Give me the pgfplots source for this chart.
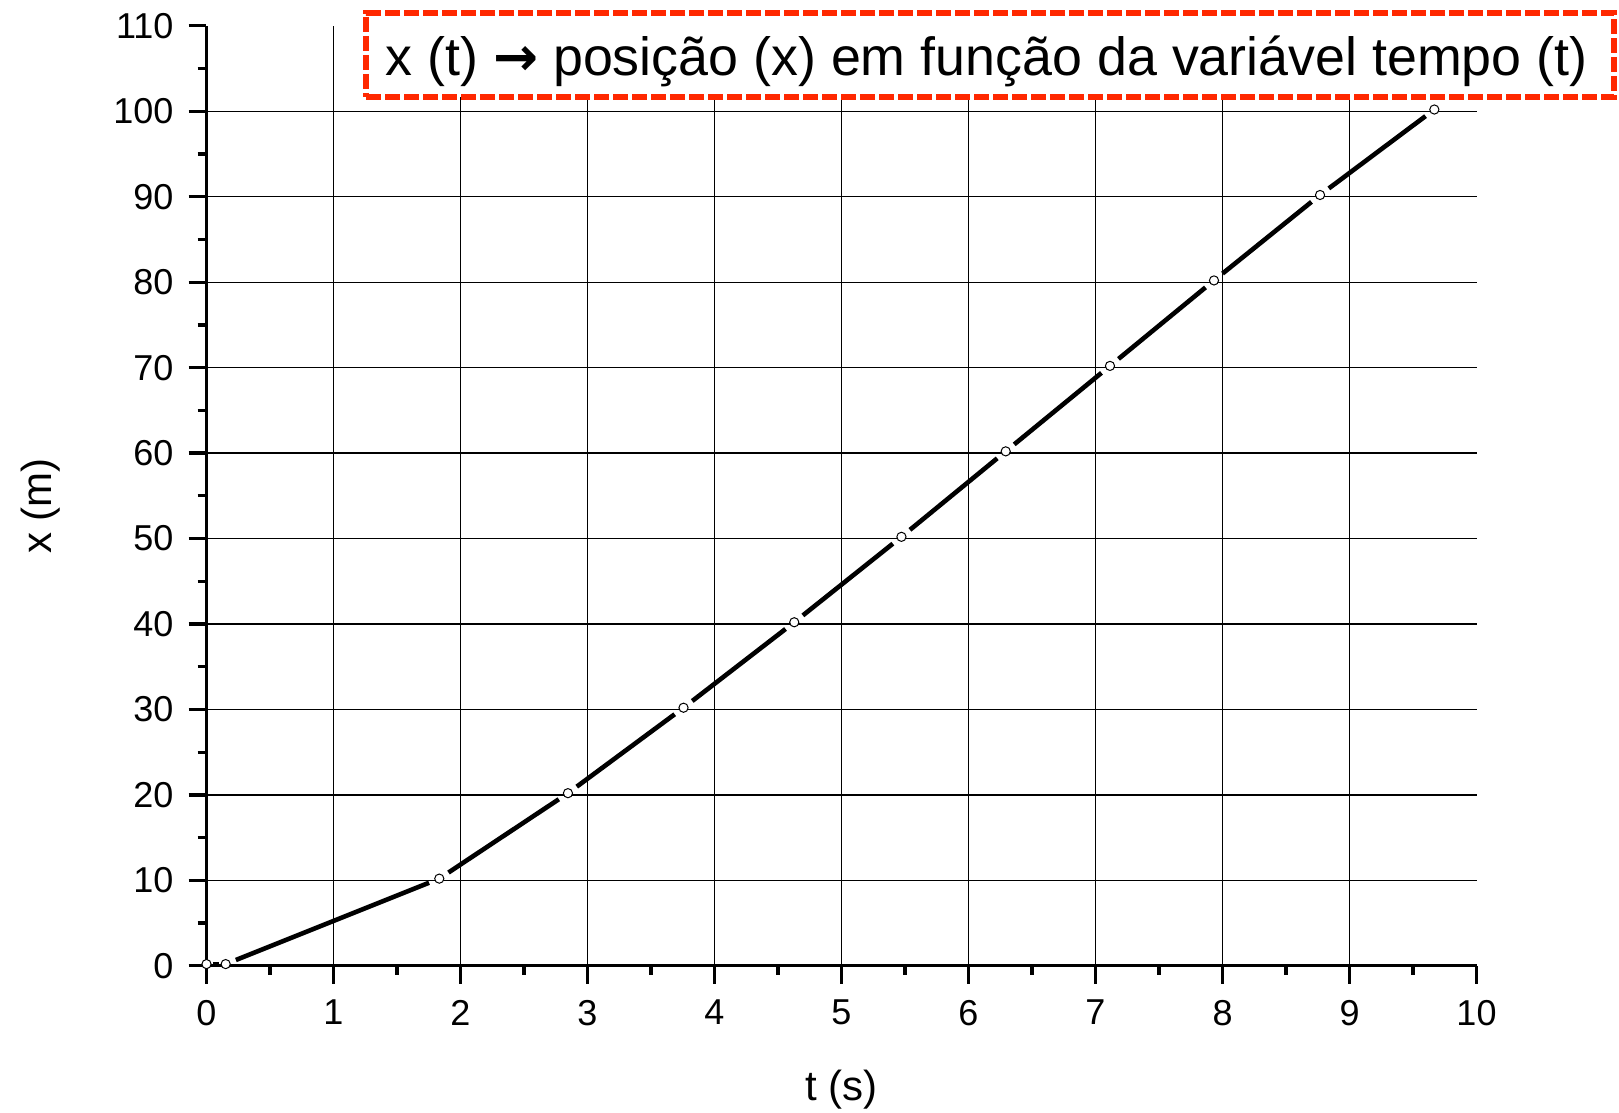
\documentclass[border=0pt]{standalone}
\usepackage{fontspec}
\setmainfont{Liberation Sans}
\newfontfamily\arrowfont{DejaVu Sans}
\usepackage{pgfplots}
\pgfplotsset{compat=1.18}
\definecolor{boxred}{RGB}{255,40,0}

\pgfplotstableread{
t x
0 0.2
0.151 0.2
1.833 10.2
2.846 20.2
3.756 30.2
4.628 40.2
5.472 50.2
6.293 60.2
7.114 70.2
7.933 80.2
8.768 90.2
9.668 100.2
}\datatable

\begin{document}
\begin{tikzpicture}
\begin{axis}[
 at={(0,0)}, anchor=south west,
 scale only axis, width=635bp, height=470bp,
 xmin=0, xmax=10, ymin=0, ymax=110,
 axis x line=bottom, axis y line=left,
 axis line style={-, line width=1.65bp},
 xtick={0,...,9}, ytick={0,10,...,100},
 extra x ticks={10}, extra y ticks={110},
 extra tick style={grid=none},
 minor xtick={0.5,1.5,...,9.5}, minor ytick={5,15,...,105},
 grid=major, major grid style={black, line width=0.65bp},
 tick align=outside,
 major tick length=9bp, minor tick length=4.5bp,
 every tick/.style={black, line width=1.65bp},
 tick label style={font=\fontsize{18bp}{21bp}\selectfont},
 xticklabel style={yshift=-4.6bp},
 yticklabel style={xshift=-4bp},
 /pgf/number format/assume math mode=true,
 xlabel={t (s)}, ylabel={x (m)},
 every axis x label/.style={at={(axis description cs:0.5,-0.132)}, anchor=center, font=\fontsize{21bp}{24bp}\selectfont},
 every axis y label/.style={at={(axis description cs:-0.131,0.489)}, anchor=center, rotate=90, font=\fontsize{21bp}{24bp}\selectfont},
]
\addplot[black, line width=2.3bp, shorten <=3.5bp, shorten >=3.5bp] coordinates {(0,0.2) (0.151,0.2)};
\addplot[black, line width=2.3bp, shorten <=5.5bp, shorten >=5.5bp] coordinates {(0.151,0.2) (1.833,10.2)};
\addplot[black, line width=2.3bp, shorten <=5.5bp, shorten >=5.5bp] coordinates {(1.833,10.2) (2.846,20.2)};
\addplot[black, line width=2.3bp, shorten <=5.5bp, shorten >=5.5bp] coordinates {(2.846,20.2) (3.756,30.2)};
\addplot[black, line width=2.3bp, shorten <=5.5bp, shorten >=5.5bp] coordinates {(3.756,30.2) (4.628,40.2)};
\addplot[black, line width=2.3bp, shorten <=5.5bp, shorten >=5.5bp] coordinates {(4.628,40.2) (5.472,50.2)};
\addplot[black, line width=2.3bp, shorten <=5.5bp, shorten >=5.5bp] coordinates {(5.472,50.2) (6.293,60.2)};
\addplot[black, line width=2.3bp, shorten <=5.5bp, shorten >=5.5bp] coordinates {(6.293,60.2) (7.114,70.2)};
\addplot[black, line width=2.3bp, shorten <=5.5bp, shorten >=5.5bp] coordinates {(7.114,70.2) (7.933,80.2)};
\addplot[black, line width=2.3bp, shorten <=5.5bp, shorten >=5.5bp] coordinates {(7.933,80.2) (8.768,90.2)};
\addplot[black, line width=2.3bp, shorten <=5.5bp, shorten >=5.5bp] coordinates {(8.768,90.2) (9.668,100.2)};
\addplot[only marks, mark=*, mark size=2.3bp, mark options={fill=white, draw=black, line width=0.5bp}] table[x=t, y=x] {\datatable};
\end{axis}
\node[draw=boxred, fill=white, line width=2.8bp, dash pattern=on 7.5bp off 2bp,
      minimum width=623.85bp, minimum height=42.25bp, inner sep=0pt] at (391.8bp,455.4bp) {};
\node[anchor=base west, inner sep=0pt, font=\fontsize{26.9bp}{31bp}\selectfont] at (89.3bp,445.25bp)
      {x (t) {\arrowfont\bfseries →} posição (x) em função da variável tempo (t)};
\pgfresetboundingbox
\path[use as bounding box] (-103.25bp,-73.25bp) rectangle (706.25bp,482.9bp);
\end{tikzpicture}
\end{document}
